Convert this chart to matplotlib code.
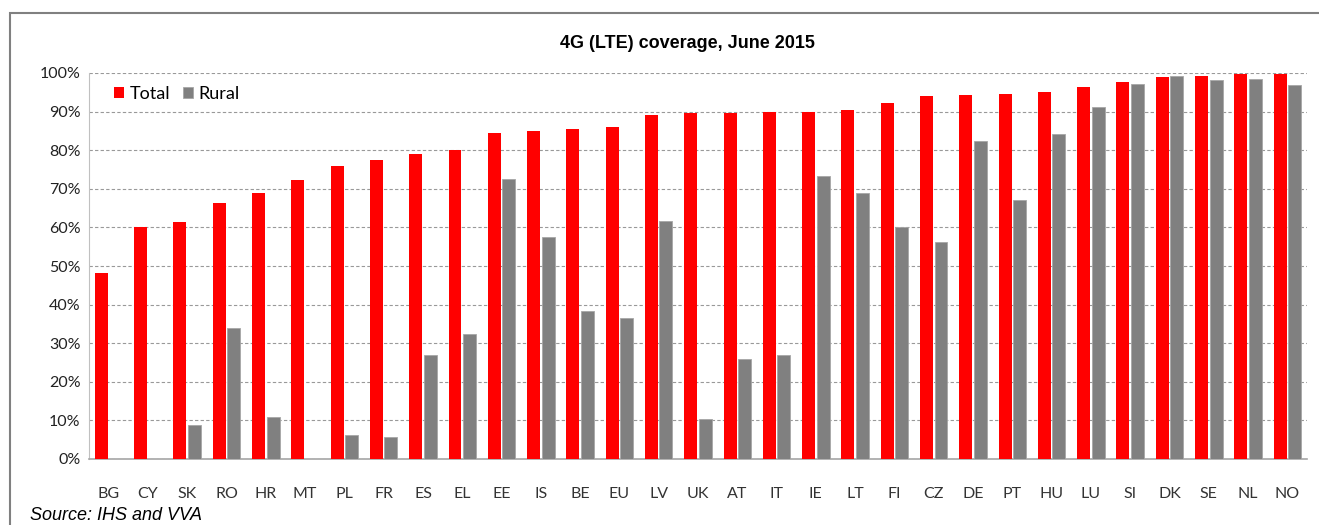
import numpy as np
import matplotlib.pyplot as plt
from matplotlib.patches import Rectangle
from matplotlib.ticker import PercentFormatter

countries = ['BG', 'CY', 'SK', 'RO', 'HR', 'MT', 'PL', 'FR', 'ES', 'EL', 'EE', 'IS',
             'BE', 'EU', 'LV', 'UK', 'AT', 'IT', 'IE', 'LT', 'FI', 'CZ', 'DE', 'PT',
             'HU', 'LU', 'SI', 'DK', 'SE', 'NL', 'NO']
total = [48.2, 60.1, 61.3, 66.2, 69.0, 72.2, 76.0, 77.5, 79.1, 80.0, 84.5, 85.0,
         85.6, 86.0, 89.0, 89.6, 89.6, 89.9, 90.0, 90.4, 92.3, 94.0, 94.2, 94.5,
         95.0, 96.3, 97.7, 99.0, 99.3, 99.8, 99.8]
rural = [0, 0, 8.7, 34.0, 11.0, 0, 6.1, 5.6, 27.0, 32.3, 72.6, 57.6,
         38.3, 36.4, 61.6, 10.4, 26.0, 27.0, 73.2, 69.0, 60.1, 56.2, 82.5, 67.2,
         84.2, 91.3, 97.2, 99.2, 98.2, 98.5, 96.9]

plt.rcParams['font.family'] = ['Lato', 'DejaVu Sans']

fig = plt.figure(figsize=(13.19, 5.25), dpi=100)
ax = fig.add_axes([89 / 1319, 66 / 525, 1218 / 1319, 386 / 525])

x = np.arange(len(countries))
width = 0.33
ax.bar(x - width / 2 - 0.02, total, width, color='#ff0000', label='Total', zorder=3)
ax.bar(x + width / 2 + 0.02, rural, width, color='#808080', edgecolor='#a6a6a6',
       linewidth=0.6, label='Rural', zorder=3)

ax.set_xlim(-0.5, len(countries) - 0.5)
ax.set_ylim(0, 100)
ax.set_yticks(np.arange(0, 101, 10))
ax.yaxis.set_major_formatter(PercentFormatter(decimals=0))
ax.set_xticks(x)
ax.set_xticklabels(countries)
ax.tick_params(axis='x', length=0, pad=20, labelsize=11.5, colors='#333333')
ax.tick_params(axis='y', length=0, pad=6, labelsize=11.5, colors='#222222')
ax.yaxis.grid(True, linestyle=(0, (3, 2)), color='#999999', linewidth=0.8, zorder=0)

for side in ['top', 'right']:
    ax.spines[side].set_visible(False)
ax.spines['left'].set_color('#c0c0c0')
ax.spines['bottom'].set_color('#a6a6a6')
ax.spines['bottom'].set_linewidth(1.2)

fig.text(687 / 1319, 1 - 43 / 525, '4G (LTE) coverage, June 2015', ha='center',
         va='center', fontsize=13, fontweight='bold', family='Liberation Sans')

ax.legend(loc='upper left', bbox_to_anchor=(0.015, 0.985), ncol=2, frameon=False,
          fontsize=13, handlelength=0.55, handleheight=0.55, handletextpad=0.3,
          columnspacing=0.7, borderaxespad=0)

fig.text(30 / 1319, 1 - 515 / 525, 'Source: IHS and VVA', ha='left', va='center',
         fontsize=13, style='italic', family='Liberation Sans')

fig.patches.append(Rectangle((10 / 1319, -0.05), 1.0, 1 - 13 / 525 + 0.05,
                             transform=fig.transFigure, fill=False,
                             edgecolor='#808080', linewidth=1.5, zorder=0))

fig.savefig('out.png', dpi=100)
